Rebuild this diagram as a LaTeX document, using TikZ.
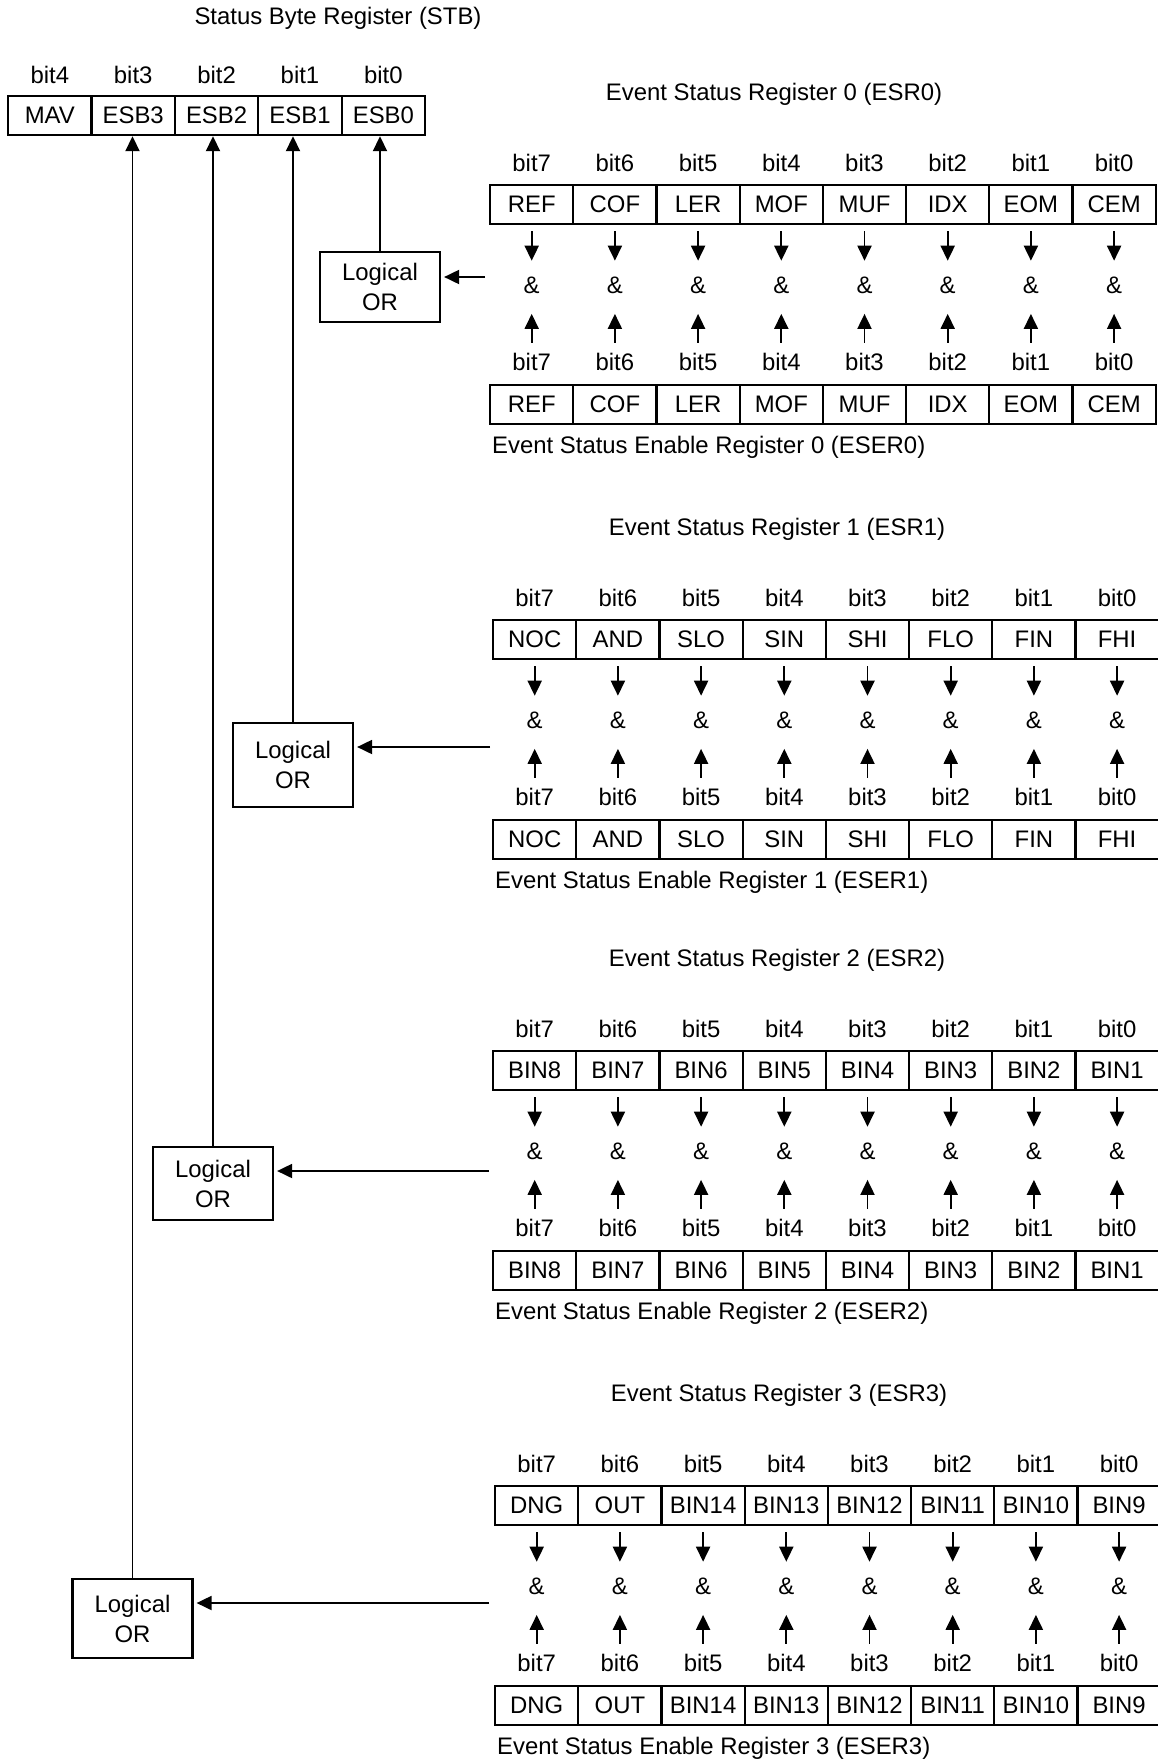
\documentclass[tikz,border=0pt]{standalone}
\usepackage{fontspec}
\setmainfont{Liberation Sans}
\usetikzlibrary{arrows.meta,calc,positioning}

\begin{document}
\begin{tikzpicture}[x=1pt,y=-1pt,>={Triangle[length=15pt,width=14pt]},
  every node/.style={font=\fontsize{23.9}{30}\selectfont,inner sep=0pt},
  cell/.style={draw,line width=2.2pt,minimum width=83.2pt,minimum height=39pt,anchor=north west},
  orbox/.style={draw,line width=2.2pt,minimum width=120pt,align=center},
  wire/.style={line width=1.9pt}]
\useasboundingbox (0,0) rectangle (1158,1762);
% status byte register
\node (stbtitle) at (338,18) {Status Byte Register (STB)};
\foreach \lab [count=\i from 0] in {MAV,ESB3,ESB2,ESB1,ESB0}{
\pgfmathtruncatemacro\b{4-\i}
\node[cell,minimum width=83.4pt] (stb\b) at ({7+83.4*\i},95) {\lab};
\node[above=11.5pt of stb\b] (stbbit\b) {bit\b};}
% event status registers and their enable registers
\foreach \g/\L/\T/\names in {0/489/184/{REF,COF,LER,MOF,MUF,IDX,EOM,CEM},
  1/492/619/{NOC,AND,SLO,SIN,SHI,FLO,FIN,FHI},
  2/492/1050/{BIN8,BIN7,BIN6,BIN5,BIN4,BIN3,BIN2,BIN1},
  3/494/1485/{DNG,OUT,BIN14,BIN13,BIN12,BIN11,BIN10,BIN9}}{
\node (esrtitle\g) at ({\L+285},{\T-90}) {Event Status Register \g\ (ESR\g)};
\node[anchor=west] (esertitle\g) at ({\L+3},{\T+263}) {Event Status Enable Register \g\ (ESER\g)};
\foreach \lab [count=\i from 0] in \names {
\pgfmathtruncatemacro\b{7-\i}
\node[cell] (esr\g-\b) at ({\L+83.2*\i},\T) {\lab};
\node[cell] (eser\g-\b) at ({\L+83.2*\i},{\T+200}) {\lab};
\node[above=12.5pt of esr\g-\b] (bt\g-\b) {bit\b};
\node[above=13.5pt of eser\g-\b] (bb\g-\b) {bit\b};
\node[below=51.5pt of esr\g-\b] (and\g-\b) {\&};
\draw[->,wire,shorten <=6pt,shorten >=16pt] (esr\g-\b) -- (and\g-\b);
\draw[->,wire,shorten <=10pt,shorten >=20pt] (bb\g-\b) -- (and\g-\b);}}
% logical OR gates
\node[orbox,minimum height=70pt] (or0) at (380,287) {Logical\\OR};
\node[orbox,minimum height=84pt] (or1) at (293,765) {Logical\\OR};
\node[orbox,minimum height=73pt] (or2) at (213,1183.5) {Logical\\OR};
\node[orbox,minimum height=79pt] (or3) at (132.5,1618.5) {Logical\\OR};
\coordinate (in0) at (485,277);
\coordinate (in1) at (490,747);
\coordinate (in2) at (489,1171);
\coordinate (in3) at (489,1603);
\foreach \g in {0,...,3}{
\draw[->,wire,shorten >=3pt] (in\g) -- (in\g -| or\g.east);
\draw[->,wire] (or\g) -- (or\g |- stb\g.south);}
\end{tikzpicture}
\end{document}
